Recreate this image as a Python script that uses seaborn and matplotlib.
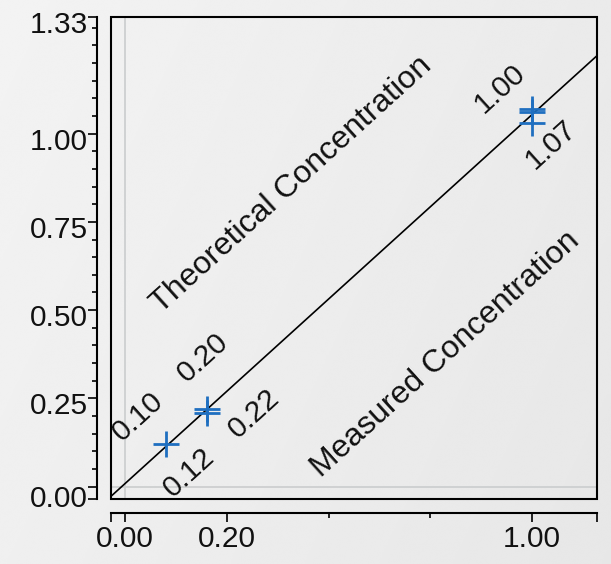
import numpy as np
import matplotlib
matplotlib.use("Agg")
import matplotlib.pyplot as plt
import matplotlib.transforms as mtransforms
from matplotlib.patches import Rectangle
from matplotlib.ticker import FixedLocator, FixedFormatter
import seaborn as sns

# Concentration levels and the reported measured result per level
theoretical = [0.10, 0.20, 1.00]
measured = [0.12, 0.22, 1.07]

# Individual determinations at each level
run_theoretical = [0.10, 0.20, 0.20, 1.00, 1.00, 1.00]
run_measured = [0.12, 0.22, 0.21, 1.07, 1.06, 1.03]

# Axis ticks and their texts
x_ticks = [0.00, 0.25, 1.00]
x_tick_labels = ["0.00", "0.20", "1.00"]
x_minor_ticks = [0.50, 0.75]
y_ticks = [0.00, 0.25, 0.50, 0.75, 1.00, 1.33]
y_tick_labels = ["0.00", "0.25", "0.50", "0.75", "1.00", "1.33"]

x_title = "Theoretical Concentration"
y_title = "Measured Concentration"

# ---- styling / layout ----
sns.set_theme(style="white")
plt.rcParams["font.family"] = ["Liberation Sans", "DejaVu Sans"]

W, H = 611, 564
DPI = 100
fig = plt.figure(figsize=(W / DPI, H / DPI), dpi=DPI)

# soft grey backdrop, lighter towards the upper left
bg = fig.add_axes([0, 0, 1, 1], zorder=-10)
gy, gx = np.mgrid[0:1:300j, 0:1:300j]
shade = 0.952 - 0.032 * gx - 0.014 * gy
bg.imshow(shade, cmap="gray", vmin=0, vmax=1, extent=[0, 1, 0, 1],
          aspect="auto", interpolation="bicubic")
bg.set_axis_off()

ax = fig.add_axes([111 / W, (H - 499) / H, 486 / W, 482 / H])
ax.patch.set_alpha(0)
XLIM = (-0.0352, 1.1604)
YLIM = (-0.0347, 1.33)
ax.set_xlim(*XLIM)
ax.set_ylim(*YLIM)

# zero reference lines
ax.axvline(0, color="#cdcfd0", lw=1.3, zorder=0)
ax.axhline(0, color="#cdcfd0", lw=1.3, zorder=0)

# fitted line across the full frame
sns.regplot(x=run_theoretical, y=run_measured, scatter=False, ci=None,
            truncate=False, color="black", line_kws=dict(lw=1.2), ax=ax)

# individual determinations
sns.scatterplot(x=run_theoretical, y=run_measured, marker="+", s=340,
                color="#1f6fc0", linewidth=2.0, ax=ax, zorder=4, legend=False)

ax.set_xlim(*XLIM)
ax.set_ylim(*YLIM)

# frame around the plotting area
ax.add_patch(Rectangle((0, 0), 1, 1, transform=ax.transAxes, fill=False,
                       lw=1.5, edgecolor="black", clip_on=False, zorder=6))

# detached axis lines
for side in ("top", "right"):
    ax.spines[side].set_visible(False)
for side in ("left", "bottom"):
    ax.spines[side].set_visible(True)
    ax.spines[side].set_position(("outward", 10))
    ax.spines[side].set_linewidth(1.5)
    ax.spines[side].set_color("black")

FS_TICK = 21.5
ax.yaxis.set_major_locator(FixedLocator([YLIM[0]] + y_ticks))
ax.yaxis.set_major_formatter(FixedFormatter([""] + y_tick_labels))
y_minor = [round(k * 0.05, 2) for k in range(1, 27)]
y_minor = [v for v in y_minor if v not in y_ticks]
ax.yaxis.set_minor_locator(FixedLocator(y_minor))

ax.xaxis.set_major_locator(FixedLocator([XLIM[0]] + x_ticks + [XLIM[1]]))
ax.xaxis.set_major_formatter(FixedFormatter([""] + x_tick_labels + [""]))
ax.xaxis.set_minor_locator(FixedLocator(x_minor_ticks))

ax.tick_params(axis="both", which="major", length=6.5, width=1.2,
               color="black", labelsize=FS_TICK, labelcolor="#111111")
ax.tick_params(axis="both", which="minor", length=3.6, width=1.2,
               color="black")
ax.tick_params(axis="y", which="both", left=True, pad=0.3)
ax.tick_params(axis="x", which="both", bottom=True, pad=2.5)
ax.grid(False)

# nudge y tick labels slightly below their ticks
for lab in ax.get_yticklabels():
    dy = -9 if lab.get_text() == "0.00" else -5
    lab.set_transform(lab.get_transform() +
                      mtransforms.ScaledTranslation(0, dy / DPI, fig.dpi_scale_trans))

# annotations aligned with the fitted line
slope, intercept = np.polyfit(run_theoretical, run_measured, 1)
p0 = ax.transData.transform((0.0, intercept))
p1 = ax.transData.transform((1.0, slope + intercept))
ang = np.degrees(np.arctan2(p1[1] - p0[1], p1[0] - p0[0]))
nx, ny = -np.sin(np.radians(ang)), np.cos(np.radians(ang))

label_shift = [0.0, 0.06, -0.01]
for t, m, sh in zip(theoretical, measured, label_shift):
    xa = t + sh
    ya = slope * xa + intercept
    ax.annotate(f"{t:.2f}", xy=(xa, ya), xytext=(41 * nx, 41 * ny),
                textcoords="offset pixels", rotation=ang, rotation_mode="anchor",
                ha="center", va="center", fontsize=21.5, color="#111111")
    ax.annotate(f"{m:.2f}", xy=(xa, ya), xytext=(-35 * nx, -35 * ny),
                textcoords="offset pixels", rotation=ang, rotation_mode="anchor",
                ha="center", va="center", fontsize=21.5, color="#111111")

xt = 0.59
yt = slope * xt + intercept
ax.annotate(x_title, xy=(xt, yt), xytext=(110 * nx, 110 * ny),
            textcoords="offset pixels", rotation=ang, rotation_mode="anchor",
            ha="center", va="center", fontsize=23, color="#111111")
ax.annotate(y_title, xy=(xt, yt), xytext=(-119 * nx, -119 * ny),
            textcoords="offset pixels", rotation=ang, rotation_mode="anchor",
            ha="center", va="center", fontsize=23, color="#111111")

fig.savefig("out.png", dpi=DPI)
